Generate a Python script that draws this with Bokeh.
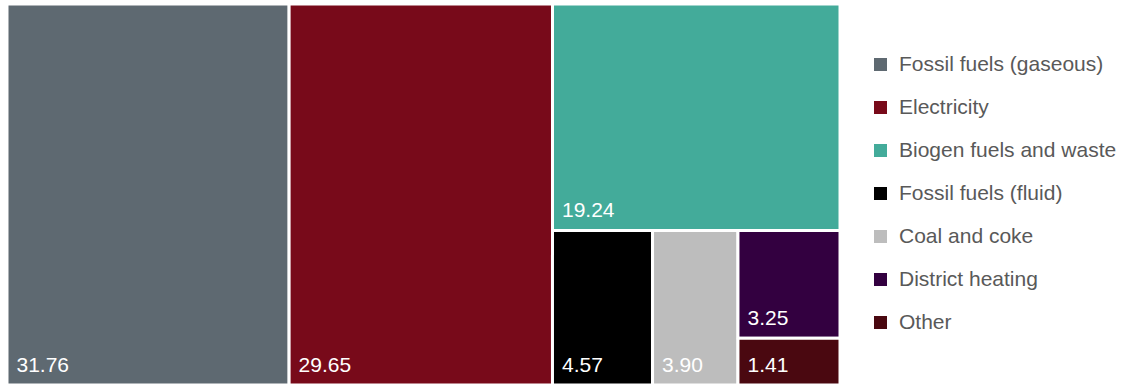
from bokeh.plotting import figure
from bokeh.models import Range1d, ColumnDataSource, Legend, LegendItem
from bokeh.core.properties import value
from bokeh.embed import file_html
from bokeh.resources import INLINE

categories = ["Fossil fuels (gaseous)", "Electricity", "Biogen fuels and waste",
              "Fossil fuels (fluid)", "Coal and coke", "District heating", "Other"]
values = [31.76, 29.65, 19.24, 4.57, 3.90, 3.25, 1.41]
labels = ["31.76", "29.65", "19.24", "4.57", "3.90", "3.25", "1.41"]
colors = ["#5e6971", "#780a1a", "#43ab9a", "#000000", "#bdbdbd", "#330040", "#4a0810"]

FIG_W, FIG_H = 1126, 385
TM_X0, TM_Y0, TM_W, TM_H = 6.5, 0.5, 833.0, 381.0


def worst(row, short):
    s = sum(row)
    return max(max(short * short * r / (s * s), (s * s) / (short * short * r)) for r in row)


def squarify(vals, x, y, w, h):
    total = sum(vals)
    areas = [v * w * h / total for v in vals]
    rects = []
    while areas:
        short = min(w, h)
        row = [areas[0]]
        i = 1
        while i < len(areas) and worst(row + [areas[i]], short) <= worst(row, short):
            row.append(areas[i])
            i += 1
        s = sum(row)
        if w >= h:
            cw = s / h
            top = y + h
            for a in row:
                rh = a / cw
                rects.append((x, x + cw, top - rh, top))
                top -= rh
            x += cw
            w -= cw
        else:
            rh = s / w
            left = x
            for a in row:
                rw = a / rh
                rects.append((left, left + rw, y + h - rh, y + h))
                left += rw
            h -= rh
        areas = areas[i:]
    return rects


rects = squarify(values, TM_X0, TM_Y0, TM_W, TM_H)
src = ColumnDataSource(dict(
    left=[r[0] for r in rects], right=[r[1] for r in rects],
    bottom=[r[2] for r in rects], top=[r[3] for r in rects],
    color=colors, label=labels,
    lx=[r[0] + 9.5 for r in rects], ly=[r[2] + 20.5 for r in rects],
))

p = figure(width=FIG_W, height=FIG_H, output_backend="svg", toolbar_location=None,
           x_range=Range1d(0, FIG_W), y_range=Range1d(0, FIG_H),
           min_border=0, min_border_left=0, min_border_right=0,
           min_border_top=0, min_border_bottom=0)
p.axis.visible = False
p.grid.visible = False
p.outline_line_color = None
p.background_fill_color = "white"
p.border_fill_color = "white"

tm = p.quad(left="left", right="right", bottom="bottom", top="top", source=src,
            fill_color="color", line_color="white", line_width=3)
p.text(x="lx", y="ly", text="label", source=src, text_color="white",
       text_font=value("Liberation Sans"), text_font_size="21px",
       text_baseline="alphabetic", text_align="left")

items = [LegendItem(label=cat, renderers=[tm], index=i) for i, cat in enumerate(categories)]

legend = Legend(items=items, location=(870, 51), orientation="vertical",
                glyph_width=20, glyph_height=20, label_height=20, spacing=19,
                label_standoff=9, padding=0, margin=0,
                border_line_color=None, background_fill_alpha=0,
                label_text_font="Liberation Sans", label_text_font_size="21px",
                label_text_color="#595959")
p.add_layout(legend)

open("out.html", "w").write(file_html(p, INLINE))
